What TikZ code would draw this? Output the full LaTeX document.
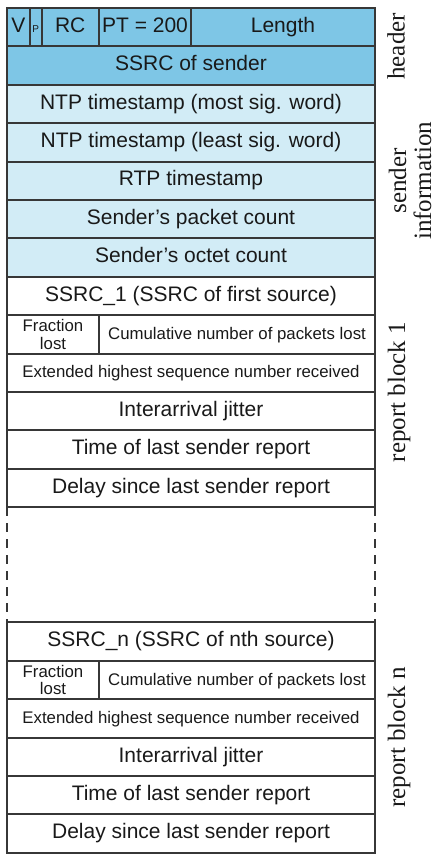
\documentclass[tikz,border=0pt]{standalone}
\usepackage{fontspec}
\setmainfont{Liberation Serif}
\setsansfont{Liberation Sans}
\usepackage{tikz}
\usetikzlibrary{positioning}
\definecolor{hdrblue}{RGB}{126,198,230}
\definecolor{infoblue}{RGB}{210,236,246}
\definecolor{rule}{RGB}{55,55,55}

\begin{document}
\begin{tikzpicture}[node distance={0pt}]
	\tikzstyle{cell}=[draw=rule, line width=1pt, rectangle, inner sep=0pt, outer sep=0pt, minimum height=19.2pt, text height=0.72em, text depth=0.2em, text=black!90, font=\sffamily\fontsize{10.5}{12}\selectfont]
	\tikzstyle{row}=[cell, minimum width=184pt]
	\tikzstyle{small}=[font=\sffamily\fontsize{8.4}{8.6}\selectfont]
	\tikzstyle{two}=[text height=, text depth=, align=center]
	\tikzstyle{h}=[fill=hdrblue]
	\tikzstyle{s}=[fill=infoblue]
	\tikzstyle{side}=[rotate=90, align=center, text=black!90, font=\fontsize{12.5}{12.5}\selectfont]
	\tikzstyle{gapline}=[draw=rule, line width=1pt, dash pattern=on 4.5pt off 3.5pt]

	\useasboundingbox (0,0) rectangle (222pt,-427pt);

	% header
	\node[cell,h,minimum width=11.5pt,anchor=north west] (v) at (3.5pt,-4pt) {V};
	\node[cell,h,minimum width=5.75pt,font=\sffamily\fontsize{5}{5}\selectfont] (p) [right=of v] {P};
	\node[cell,h,minimum width=28.75pt] (rc) [right=of p] {RC};
	\node[cell,h,minimum width=46pt] (pt) [right=of rc] {PT = 200};
	\node[cell,h,minimum width=92pt] (length) [right=of pt] {Length};
	\node[row,h,anchor=north west] (ssrc) at (v.south west) {SSRC of sender};

	% sender information
	\node[row,s] (ntpmsw) [below=of ssrc] {NTP timestamp (most sig. word)};
	\node[row,s] (ntplsw) [below=of ntpmsw] {NTP timestamp (least sig. word)};
	\node[row,s] (rtp) [below=of ntplsw] {RTP timestamp};
	\node[row,s] (pkt) [below=of rtp] {Sender's packet count};
	\node[row,s] (oct) [below=of pkt] {Sender's octet count};

	% report block 1
	\node[row] (ssrc1) [below=of oct] {SSRC\_1 (SSRC of first source)};
	\node[cell,small,two,minimum width=46pt,anchor=north west] (frac1) at (ssrc1.south west) {Fraction\\lost};
	\node[cell,small,minimum width=138pt] (cum1) [right=of frac1] {Cumulative number of packets lost};
	\node[row,small,anchor=north west] (ext1) at (frac1.south west) {Extended highest sequence number received};
	\node[row] (jit1) [below=of ext1] {Interarrival jitter};
	\node[row] (lsr1) [below=of jit1] {Time of last sender report};
	\node[row] (dlsr1) [below=of lsr1] {Delay since last sender report};

	\node[row,draw=none,minimum height=57.6pt] (gap) [below=of dlsr1] {};

	% report block n
	\node[row] (ssrcn) [below=of gap] {SSRC\_n (SSRC of nth source)};
	\node[cell,small,two,minimum width=46pt,anchor=north west] (fracn) at (ssrcn.south west) {Fraction\\lost};
	\node[cell,small,minimum width=138pt] (cumn) [right=of fracn] {Cumulative number of packets lost};
	\node[row,small,anchor=north west] (extn) at (fracn.south west) {Extended highest sequence number received};
	\node[row] (jitn) [below=of extn] {Interarrival jitter};
	\node[row] (lsrn) [below=of jitn] {Time of last sender report};
	\node[row] (dlsrn) [below=of lsrn] {Delay since last sender report};

	\foreach \side in {west,east}
	\draw [gapline] (gap.north \side) -- (gap.south \side);

	% labels
	\node[side] (lhdr) at ([xshift=10.5pt]ssrc.north east) {header};
	\node[side] (linfo) at ([xshift=17.5pt]rtp.east) {sender\\information};
	\node[side] (lblk1) at ([xshift=12pt]ext1.south east) {report block 1};
	\node[side] (lblkn) at ([xshift=12pt]extn.south east) {report block n};
\end{tikzpicture}
\end{document}
